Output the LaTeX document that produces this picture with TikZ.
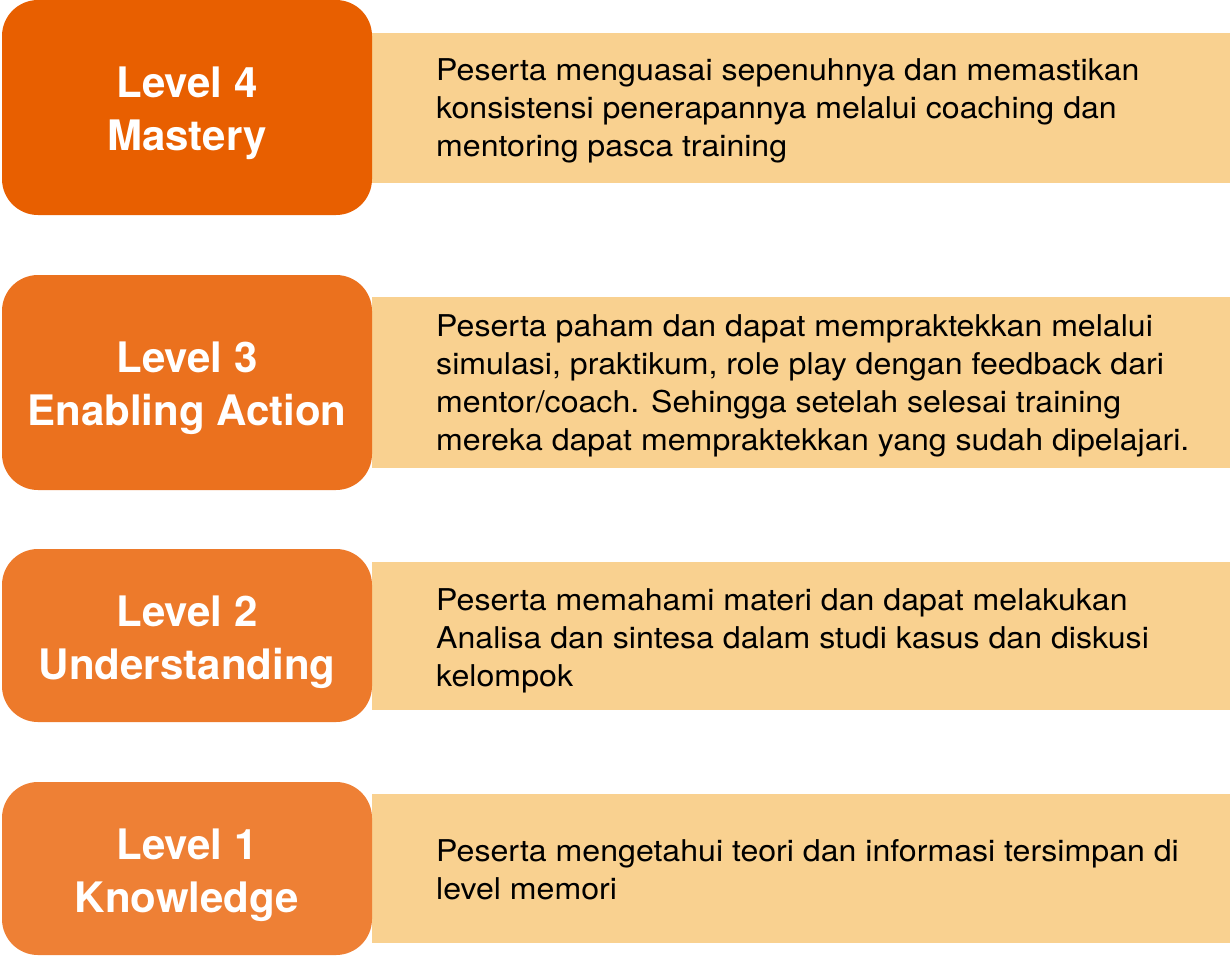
\documentclass[tikz,border=0pt]{standalone}
\usepackage{fontspec}
\setmainfont{TeX Gyre Heros}
\newfontfamily\descfont[FakeStretch=1.07]{TeX Gyre Heros}
\definecolor{lvfour}{HTML}{E85F00}
\definecolor{lvthree}{HTML}{EB711E}
\definecolor{lvtwo}{HTML}{ED7A2B}
\definecolor{lvone}{HTML}{EE8035}
\definecolor{beige}{HTML}{F9D190}
\begin{document}
\begin{tikzpicture}[x=1pt,y=-1pt,
  lvlabel/.style={text=white, align=center, font=\bfseries\fontsize{42}{53}\selectfont, inner sep=0pt},
  desctext/.style={anchor=west, align=left, font=\descfont\fontsize{30}{38}\selectfont, inner sep=0pt, text=black}]
\useasboundingbox (0,0) rectangle (1230,956);
% row 1
\fill[beige] (372,33) rectangle (1230,183);
\fill[lvfour,rounded corners=36pt] (2,0) rectangle (372,215);
\node[lvlabel] (l4) at (187,113) {Level 4\\Mastery};
\node[desctext] (d4) at (436,111) {Peserta menguasai sepenuhnya dan memastikan\\konsistensi penerapannya melalui coaching dan\\mentoring pasca training};
% row 2
\fill[beige] (372,297) rectangle (1230,468);
\fill[lvthree,rounded corners=36pt] (2,275) rectangle (372,490);
\node[lvlabel] (l3) at (187,388) {Level 3\\Enabling Action};
\node[desctext] (d3) at (436,386) {Peserta paham dan dapat mempraktekkan melalui\\simulasi, praktikum, role play dengan feedback dari\\mentor/coach. Sehingga setelah selesai training\\mereka dapat mempraktekkan yang sudah dipelajari.};
% row 3
\fill[beige] (372,562) rectangle (1230,710);
\fill[lvtwo,rounded corners=36pt] (2,549) rectangle (372,722);
\node[lvlabel] (l2) at (187,642) {Level 2\\Understanding};
\node[desctext] (d2) at (436,641) {Peserta memahami materi dan dapat melakukan\\Analisa dan sintesa dalam studi kasus dan diskusi\\kelompok};
% row 4
\fill[beige] (372,794) rectangle (1230,943);
\fill[lvone,rounded corners=36pt] (2,782) rectangle (372,955);
\node[lvlabel] (l1) at (187,875) {Level 1\\Knowledge};
\node[desctext] (d1) at (436,870) {Peserta mengetahui teori dan informasi tersimpan di\\level memori};
\end{tikzpicture}
\end{document}
